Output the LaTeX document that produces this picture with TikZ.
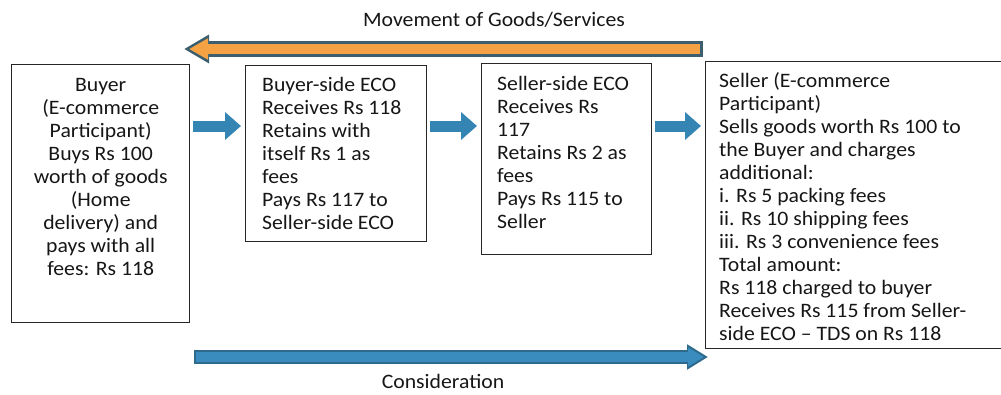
\documentclass[tikz,border=0pt]{standalone}
\usepackage{fontspec}
\setmainfont{Carlito}[FakeStretch=1.06]
\usepackage{xcolor}
\usepackage{tikz}
\usetikzlibrary{arrows.meta}
\usetikzlibrary{positioning}
\definecolor{goodsorange}{HTML}{F4A244}
\definecolor{goodsrim}{HTML}{3B5F6E}
\definecolor{payblue}{HTML}{3A8BBE}
\definecolor{payrim}{HTML}{2D6A8C}
\definecolor{stepblue}{HTML}{3484B4}
\definecolor{inkgray}{HTML}{161616}

\begin{document}
\begin{tikzpicture}[x=1pt, y=-1pt, font=\fontsize{20.5}{23}\selectfont, text=inkgray]
    \useasboundingbox (0,0) rectangle (1001,394);
      \tikzstyle{box} = [draw=black!85, line width=1.4pt, anchor=north west, inner sep=0pt]
      \tikzstyle{box text} = [inner sep=0pt, align=left]
      \tikzstyle{line} = [draw=stepblue, line width=11pt, -{Triangle[length=16pt,width=27pt]}, shorten <=3pt, shorten >=4pt]
      \tikzstyle{rim line} = [line width=16pt, -{Triangle[length=25pt,width=27pt]}]
      \tikzstyle{fill line} = [line width=10pt, -{Triangle[length=19pt,width=20pt]}, shorten <=3pt, shorten >=5pt]
      %nodes
      \node[box, minimum width=178pt, minimum height=258pt] (buyer) at (11,64) {};
      \node[box, minimum width=181pt, minimum height=176pt] (bside) at (245,65) {};
      \node[box, minimum width=170pt, minimum height=191pt] (sside) at (481,63) {};
      \node[box, minimum width=300pt, minimum height=287pt] (seller) at (705,61) {};

      \node[box text, align=center, below=14pt of buyer.north] (buyer text)
         {Buyer\\(E-commerce\\Participant)\\Buys Rs 100\\worth of goods\\(Home\\delivery) and\\pays with all\\fees: Rs 118};
      \node[box text, below right=12.5pt and 17pt of bside.north west] (bside text)
         {Buyer-side ECO\\Receives Rs 118\\Retains with\\itself Rs 1 as\\fees\\Pays Rs 117 to\\Seller-side ECO};
      \node[box text, below right=13pt and 16pt of sside.north west] (sside text)
         {Seller-side ECO\\Receives Rs\\117\\Retains Rs 2 as\\fees\\Pays Rs 115 to\\Seller};
      \node[box text, below right=11pt and 14pt of seller.north west] (seller text)
         {Seller (E-commerce\\Participant)\\Sells goods worth Rs 100 to\\the Buyer and charges\\additional:\\i. Rs 5 packing fees\\ii. Rs 10 shipping fees\\iii. Rs 3 convenience fees\\Total amount:\\Rs 118 charged to buyer\\Receives Rs 115 from Seller-\\side ECO -- TDS on Rs 118};

      \coordinate (row) at (0,126);
      \coordinate (goods tail) at (703,49);
      \coordinate (goods head) at (184,49);
      \coordinate (pay tail) at (194,357);
      \coordinate (pay head) at (708,357);
      \node (goods label) at (494,20) {Movement of Goods/Services};
      \node (pay label) at (443,381) {Consideration};
      %lines
      \draw [line] (buyer.east |- row) -- (bside.west |- row);
      \draw [line] (bside.east |- row) -- (sside.west |- row);
      \draw [line] (sside.east |- row) -- (seller.west |- row);

      \draw [rim line, goodsrim] (goods tail) -- (goods head);
      \draw [fill line, goodsorange] (goods tail) -- (goods head);
      \draw [rim line, payrim, line width=14pt, -{Triangle[length=21pt,width=24pt]}] (pay tail) -- (pay head);
      \draw [fill line, payblue, -{Triangle[length=16pt,width=18pt]}, shorten <=2pt, shorten >=4pt] (pay tail) -- (pay head);
\end{tikzpicture}
\end{document}
